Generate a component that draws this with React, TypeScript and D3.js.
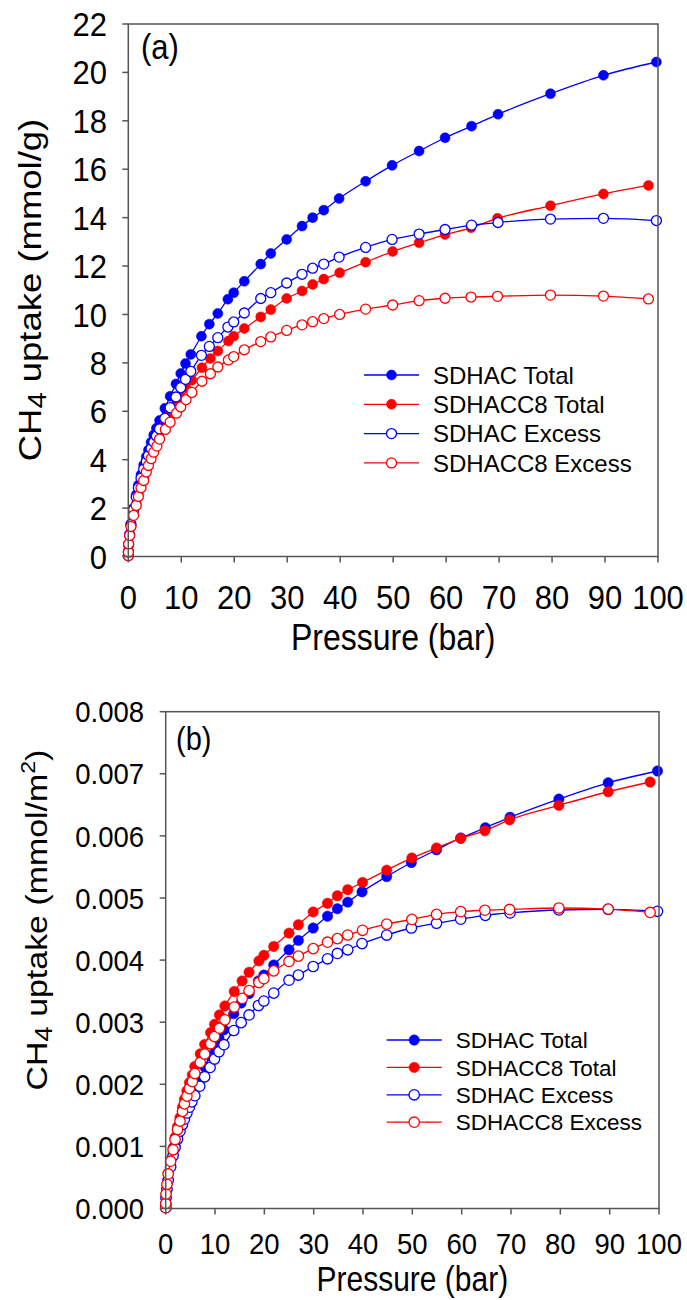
import React from 'react';
import * as d3 from 'd3';

// ---------- DATA ----------
// Pressure (bar)
const P_SDHAC = [0.01, 0.02, 0.06, 0.25, 0.5, 1.0, 1.5, 1.9, 2.4, 2.9, 3.4, 3.8, 4.3, 4.8, 5.3, 5.9, 6.9, 7.9, 9.0, 9.9, 10.8, 11.8, 13.8, 15.3, 16.9, 18.8, 19.9, 21.9, 25.0, 26.9, 29.9, 32.8, 34.8, 36.9, 39.8, 44.8, 49.8, 54.9, 59.8, 64.8, 69.8, 79.7, 89.7, 99.7];
const P_SDHACC8 = [0.01, 0.02, 0.06, 0.25, 0.5, 1.0, 1.5, 1.9, 2.4, 2.9, 3.4, 3.8, 4.3, 4.8, 5.4, 5.9, 7.0, 7.9, 9.1, 9.9, 10.9, 12.0, 13.9, 15.5, 16.9, 18.9, 19.9, 21.9, 25.0, 26.9, 29.9, 32.8, 34.8, 36.9, 39.9, 44.8, 49.9, 54.9, 59.8, 64.7, 69.7, 79.7, 89.7, 98.2];

// Panel (a): CH4 uptake (mmol/g)
const A_SDHAC_TOTAL = [0.04, 0.2, 0.5, 0.92, 1.35, 2.0, 2.55, 2.95, 3.38, 3.78, 4.12, 4.4, 4.72, 5.02, 5.3, 5.62, 6.12, 6.62, 7.13, 7.56, 7.97, 8.35, 9.1, 9.6, 10.04, 10.63, 10.9, 11.37, 12.08, 12.52, 13.1, 13.65, 14.0, 14.31, 14.79, 15.5, 16.16, 16.75, 17.3, 17.78, 18.27, 19.12, 19.88, 20.43];
const A_SDHACC8_TOTAL = [0.03, 0.18, 0.52, 0.88, 1.26, 1.74, 2.18, 2.56, 2.95, 3.27, 3.64, 3.93, 4.23, 4.52, 4.8, 5.11, 5.56, 5.9, 6.32, 6.62, 6.96, 7.28, 7.8, 8.18, 8.49, 8.9, 9.1, 9.42, 9.9, 10.2, 10.66, 10.97, 11.24, 11.46, 11.72, 12.16, 12.6, 12.96, 13.3, 13.58, 13.97, 14.49, 14.98, 15.33];
const A_SDHAC_EXCESS = [0.04, 0.2, 0.5, 0.9, 1.32, 1.94, 2.46, 2.84, 3.24, 3.61, 3.92, 4.17, 4.46, 4.73, 4.98, 5.27, 5.71, 6.15, 6.59, 6.98, 7.32, 7.65, 8.31, 8.68, 9.04, 9.48, 9.69, 10.06, 10.66, 10.9, 11.3, 11.66, 11.91, 12.08, 12.37, 12.77, 13.1, 13.32, 13.51, 13.69, 13.8, 13.94, 13.97, 13.88];
const A_SDHACC8_EXCESS = [0.03, 0.18, 0.52, 0.87, 1.24, 1.7, 2.11, 2.48, 2.84, 3.14, 3.49, 3.76, 4.04, 4.31, 4.56, 4.85, 5.25, 5.55, 5.92, 6.18, 6.48, 6.78, 7.24, 7.55, 7.83, 8.12, 8.26, 8.54, 8.88, 9.07, 9.34, 9.57, 9.7, 9.83, 10.0, 10.22, 10.39, 10.57, 10.67, 10.72, 10.75, 10.8, 10.76, 10.64];

// Panel (b): CH4 uptake (mmol/m2)
const B_SDHAC_TOTAL = [0.000014, 0.000069, 0.000172, 0.000317, 0.000466, 0.00069, 0.000879, 0.001017, 0.001166, 0.001303, 0.001421, 0.001517, 0.001628, 0.001731, 0.001828, 0.001938, 0.00211, 0.002283, 0.002459, 0.002607, 0.002748, 0.002879, 0.003138, 0.00331, 0.003462, 0.003666, 0.003759, 0.003921, 0.004166, 0.004317, 0.004517, 0.004707, 0.004828, 0.004934, 0.0051, 0.005345, 0.005572, 0.005776, 0.005966, 0.006131, 0.0063, 0.006593, 0.006855, 0.007045];
const B_SDHACC8_TOTAL = [0.000013, 0.000081, 0.000233, 0.000394, 0.000565, 0.00078, 0.000977, 0.001147, 0.001322, 0.001465, 0.001631, 0.001761, 0.001895, 0.002025, 0.002151, 0.002289, 0.002491, 0.002643, 0.002832, 0.002966, 0.003118, 0.003262, 0.003495, 0.003665, 0.003804, 0.003987, 0.004077, 0.00422, 0.004435, 0.00457, 0.004776, 0.004915, 0.005036, 0.005134, 0.005251, 0.005448, 0.005645, 0.005806, 0.005959, 0.006084, 0.006259, 0.006492, 0.006711, 0.006868];
const B_SDHAC_EXCESS = [0.000014, 0.000069, 0.000172, 0.00031, 0.000455, 0.000669, 0.000848, 0.000979, 0.001117, 0.001245, 0.001352, 0.001438, 0.001538, 0.001631, 0.001717, 0.001817, 0.001969, 0.002121, 0.002272, 0.002407, 0.002524, 0.002638, 0.002866, 0.002993, 0.003117, 0.003269, 0.003341, 0.003469, 0.003676, 0.003759, 0.003897, 0.004021, 0.004107, 0.004166, 0.004266, 0.004403, 0.004517, 0.004593, 0.004659, 0.004721, 0.004759, 0.004807, 0.004817, 0.004786];
const B_SDHACC8_EXCESS = [0.000013, 0.000081, 0.000233, 0.00039, 0.000556, 0.000762, 0.000945, 0.001111, 0.001272, 0.001407, 0.001564, 0.001685, 0.00181, 0.001931, 0.002043, 0.002173, 0.002352, 0.002487, 0.002652, 0.002769, 0.002903, 0.003038, 0.003244, 0.003383, 0.003508, 0.003638, 0.003701, 0.003826, 0.003978, 0.004064, 0.004185, 0.004288, 0.004346, 0.004404, 0.00448, 0.004579, 0.004655, 0.004736, 0.00478, 0.004803, 0.004816, 0.004839, 0.004821, 0.004767];

const SERIES_NAMES = ['SDHAC Total', 'SDHACC8 Total', 'SDHAC Excess', 'SDHACC8 Excess'];
const SERIES_COLORS = ['#0000ff', '#ff0000', '#0000ff', '#ff0000'];
const SERIES_FILLED = [true, true, false, false];
const SERIES_PRESSURES = [P_SDHAC, P_SDHACC8, P_SDHAC, P_SDHACC8];

const X_TICKS = [0, 10, 20, 30, 40, 50, 60, 70, 80, 90, 100];
const A_Y_TICKS = [0, 2, 4, 6, 8, 10, 12, 14, 16, 18, 20, 22];
const B_Y_TICKS = [0, 0.001, 0.002, 0.003, 0.004, 0.005, 0.006, 0.007, 0.008];

const FONT = '"Liberation Sans", Arial, Helvetica, sans-serif';
const AXIS_COLOR = '#555555';

type PanelProps = {
  left: number; right: number; top: number; bottom: number;
  yMax: number; yTicks: number[]; yFmt: (v: number) => string;
  values: number[][];
  tickFont: number; tickStretch: number; xTickBaseline: number; yTickRight: number;
  xTitleBaseline: number; titleFont: number; titleStretch: number;
  yTitleX: number; yTitleY: number; yTitleFont: number; yTitleStretch: number; yUnit: 'g' | 'm2';
  tag: string; tagX: number; tagY: number; tagFont: number;
  legX: number; legY: number; legDy: number; legFont: number;
  r: number;
};

function Panel(p: PanelProps) {
  const x = d3.scaleLinear().domain([0, 100]).range([p.left, p.right]);
  const y = d3.scaleLinear().domain([0, p.yMax]).range([p.bottom, p.top]);
  const line = d3.line<[number, number]>().x(d => x(d[0])).y(d => y(d[1])).curve(d3.curveMonotoneX);
  const tickLen = 6;
  return (
    <g>
      {p.values.map((vals, si) => {
        const pts: [number, number][] = SERIES_PRESSURES[si].map((pr, i) => [pr, vals[i]]);
        const c = SERIES_COLORS[si];
        return (
          <g key={si}>
            <path d={line(pts) || ''} fill="none" stroke={c} strokeWidth={1.3} />
            {pts.map((d, i) => (
              <circle key={i} cx={x(d[0])} cy={y(d[1])} r={p.r}
                fill={SERIES_FILLED[si] ? c : '#ffffff'} stroke={c} strokeWidth={SERIES_FILLED[si] ? 0.5 : 1.3} />
            ))}
          </g>
        );
      })}
      <rect x={p.left} y={p.top} width={p.right - p.left} height={p.bottom - p.top} fill="none" stroke={AXIS_COLOR} strokeWidth={1.5} />
      {X_TICKS.map(t => (
        <g key={'x' + t}>
          <line x1={x(t)} x2={x(t)} y1={p.bottom} y2={p.bottom + tickLen} stroke={AXIS_COLOR} strokeWidth={1.5} />
          <text transform={`translate(${x(t)},${p.xTickBaseline}) scale(1,${p.tickStretch})`} textAnchor="middle" fontSize={p.tickFont} fontFamily={FONT} fill="#000">{t}</text>
        </g>
      ))}
      {p.yTicks.map(t => (
        <g key={'y' + t}>
          <line x1={p.left - tickLen} x2={p.left} y1={y(t)} y2={y(t)} stroke={AXIS_COLOR} strokeWidth={1.5} />
          <text transform={`translate(${p.yTickRight},${y(t) + p.tickFont * 0.36 * p.tickStretch}) scale(1,${p.tickStretch})`} textAnchor="end" fontSize={p.tickFont} fontFamily={FONT} fill="#000">{p.yFmt(t)}</text>
        </g>
      ))}
      <text transform={`translate(${(p.left + p.right) / 2},${p.xTitleBaseline}) scale(1,${p.titleStretch})`} textAnchor="middle" fontSize={p.titleFont} fontFamily={FONT} fill="#000">Pressure (bar)</text>
      <text transform={`translate(${p.yTitleX},${p.yTitleY}) rotate(-90) scale(${p.yTitleStretch},1)`} textAnchor="middle" fontSize={p.yTitleFont} fontFamily={FONT} fill="#000">
        CH<tspan fontSize={p.yTitleFont * 0.8} dy={p.yTitleFont * 0.16}>4</tspan>
        <tspan dy={-p.yTitleFont * 0.16}> uptake (mmol/{p.yUnit === 'g' ? 'g' : 'm'}</tspan>
        {p.yUnit === 'm2' ? <tspan fontSize={p.yTitleFont * 0.68} dy={-p.yTitleFont * 0.4}>2</tspan> : null}
        {p.yUnit === 'm2' ? <tspan dy={p.yTitleFont * 0.4}>)</tspan> : <tspan>)</tspan>}
      </text>
      <text transform={`translate(${p.tagX},${p.tagY}) scale(1,${p.titleStretch})`} fontSize={p.tagFont} fontFamily={FONT} fill="#000">{p.tag}</text>
      {SERIES_NAMES.map((n, i) => {
        const ly = p.legY + i * p.legDy;
        const c = SERIES_COLORS[i];
        return (
          <g key={'l' + i}>
            <line x1={p.legX} x2={p.legX + 55} y1={ly} y2={ly} stroke={c} strokeWidth={1.3} />
            <circle cx={p.legX + 27.5} cy={ly} r={p.r} fill={SERIES_FILLED[i] ? c : '#fff'} stroke={c} strokeWidth={SERIES_FILLED[i] ? 0.5 : 1.3} />
            <text x={p.legX + 69} y={ly + p.legFont * 0.36} fontSize={p.legFont} fontFamily={FONT} fill="#000">{n}</text>
          </g>
        );
      })}
    </g>
  );
}

export default function App() {
  return (
    <svg width={687} height={1300} style={{ position: 'absolute', left: 0, top: 0, background: '#fff' }}>
      <rect x={0} y={0} width={687} height={1300} fill="#fff" />
      <Panel left={128.3} right={658} top={24} bottom={556.5}
        yMax={22} yTicks={A_Y_TICKS} yFmt={v => String(v)}
        values={[A_SDHAC_TOTAL, A_SDHACC8_TOTAL, A_SDHAC_EXCESS, A_SDHACC8_EXCESS]}
        tickFont={31} tickStretch={1.08} xTickBaseline={609} yTickRight={107}
        xTitleBaseline={650} titleFont={32} titleStretch={1.15}
        yTitleX={41} yTitleY={290} yTitleFont={32} yTitleStretch={1.14} yUnit="g"
        tag="(a)" tagX={141} tagY={58.5} tagFont={31}
        legX={364} legY={375} legDy={29.3} legFont={24} r={5} />
      <Panel left={165.7} right={659} top={711.7} bottom={1208.5}
        yMax={0.008} yTicks={B_Y_TICKS} yFmt={v => v.toFixed(3)}
        values={[B_SDHAC_TOTAL, B_SDHACC8_TOTAL, B_SDHAC_EXCESS, B_SDHACC8_EXCESS]}
        tickFont={27.5} tickStretch={1.08} xTickBaseline={1254} yTickRight={144}
        xTitleBaseline={1291} titleFont={30} titleStretch={1.15}
        yTitleX={47} yTitleY={920} yTitleFont={29} yTitleStretch={1.17} yUnit="m2"
        tag="(b)" tagX={176} tagY={750} tagFont={29}
        legX={386.7} legY={1040} legDy={27.4} legFont={22.5} r={5.2} />
    </svg>
  );
}
